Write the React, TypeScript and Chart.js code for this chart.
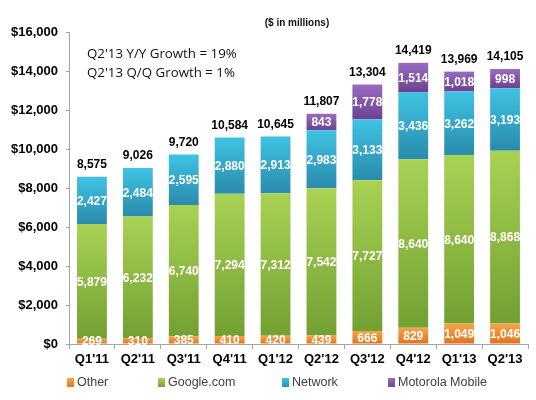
import React, { useEffect, useRef } from 'react';
import { Chart, registerables } from 'chart.js';

Chart.register(...registerables);

const QUARTERS = ["Q1'11", "Q2'11", "Q3'11", "Q4'11", "Q1'12", "Q2'12", "Q3'12", "Q4'12", "Q1'13", "Q2'13"];
const OTHER = [269, 310, 385, 410, 420, 439, 666, 829, 1049, 1046];
const GOOGLE_COM = [5879, 6232, 6740, 7294, 7312, 7542, 7727, 8640, 8640, 8868];
const NETWORK = [2427, 2484, 2595, 2880, 2913, 2983, 3133, 3436, 3262, 3193];
const MOTOROLA = [0, 0, 0, 0, 0, 843, 1778, 1514, 1018, 998];
const TOTALS = [8575, 9026, 9720, 10584, 10645, 11807, 13304, 14419, 13969, 14105];
const Y_TICKS = [0, 2000, 4000, 6000, 8000, 10000, 12000, 14000, 16000];
const NOTES = ["Q2'13 Y/Y Growth = 19%", "Q2'13 Q/Q Growth = 1%"];

// [top, bottom] shades per series
const SHADES: [string, string][] = [
  ['#f7a448', '#e2731a'],
  ['#a9d254', '#72a032'],
  ['#3fc3e3', '#2a8bad'],
  ['#9a6cc0', '#6a428f'],
];

const FONT = '"Liberation Sans", Arial, sans-serif';
const fmt = (v: number) => v.toLocaleString('en-US');

const segmentFill = (ctx: any) => {
  const chart = ctx.chart;
  const y = chart.scales?.y;
  const [top, bottom] = SHADES[ctx.datasetIndex];
  if (!y || ctx.type !== 'data') return bottom;
  let base = 0;
  for (let d = 0; d < ctx.datasetIndex; d++) base += chart.data.datasets[d].data[ctx.dataIndex] as number;
  const value = chart.data.datasets[ctx.datasetIndex].data[ctx.dataIndex] as number;
  const y0 = y.getPixelForValue(base + value);
  const y1 = y.getPixelForValue(base);
  if (!isFinite(y0) || !isFinite(y1) || y1 - y0 < 1) return bottom;
  const g = chart.ctx.createLinearGradient(0, y0, 0, y1);
  g.addColorStop(0, top);
  g.addColorStop(1, bottom);
  return g;
};

const labelsPlugin = {
  id: 'valueLabels',
  afterDatasetsDraw(chart: any) {
    const { ctx } = chart;
    ctx.save();
    ctx.textAlign = 'center';
    ctx.textBaseline = 'middle';
    ctx.font = `bold 12px ${FONT}`;
    ctx.fillStyle = '#ffffff';
    chart.data.datasets.forEach((ds: any, di: number) => {
      chart.getDatasetMeta(di).data.forEach((el: any, i: number) => {
        const v = ds.data[i];
        if (!v) return;
        ctx.fillText(fmt(v), el.x, (el.y + el.base) / 2 + 1);
      });
    });
    ctx.fillStyle = '#000000';
    const yScale = chart.scales.y;
    chart.getDatasetMeta(0).data.forEach((el: any, i: number) => {
      ctx.fillText(fmt(TOTALS[i]), el.x, yScale.getPixelForValue(TOTALS[i]) - 12);
    });

    // notes and unit caption
    ctx.textAlign = 'left';
    ctx.font = `13.3px "Open Sans", ${FONT}`;
    ctx.fillStyle = '#111111';
    NOTES.forEach((t, k) => ctx.fillText(t, 87, 54 + k * 19));
    ctx.textAlign = 'center';
    ctx.font = `bold 10px ${FONT}`;
    ctx.fillText('($ in millions)', 297, 23);

    // legend
    const slots = [67, 158, 282, 388];
    ctx.textAlign = 'left';
    ctx.font = `12.5px ${FONT}`;
    chart.data.datasets.forEach((ds: any, di: number) => {
      const x = slots[di];
      const g = ctx.createLinearGradient(0, 378, 0, 388);
      g.addColorStop(0, SHADES[di][0]);
      g.addColorStop(1, SHADES[di][1]);
      ctx.fillStyle = g;
      ctx.fillRect(x, 378, 7, 9);
      ctx.fillStyle = '#404040';
      ctx.fillText(ds.label, x + 10, 383);
    });
    ctx.restore();
  },
};

const App: React.FC = () => {
  const canvasRef = useRef<HTMLCanvasElement | null>(null);

  useEffect(() => {
    if (!canvasRef.current) return;
    const series = [
      { label: 'Other', data: OTHER },
      { label: 'Google.com', data: GOOGLE_COM },
      { label: 'Network', data: NETWORK },
      { label: 'Motorola Mobile', data: MOTOROLA },
    ];
    const chart = new Chart(canvasRef.current, {
      type: 'bar',
      data: {
        labels: QUARTERS,
        datasets: series.map((s) => ({
          ...s,
          backgroundColor: segmentFill,
          borderWidth: 0,
          barPercentage: 0.65,
          categoryPercentage: 1,
        })),
      },
      options: {
        animation: false,
        responsive: true,
        maintainAspectRatio: false,
        layout: { padding: { top: 32, right: 8, left: 0, bottom: 0 } },
        plugins: { legend: { display: false }, tooltip: { enabled: false } },
        scales: {
          x: {
            stacked: true,
            afterFit: (s: any) => { s.height = 56; },
            grid: {
              offset: true,
              drawOnChartArea: false,
              drawTicks: true,
              tickLength: 5,
              color: '#a6a6a6',
            },
            border: { color: '#a6a6a6' },
            ticks: { color: '#000', font: { family: FONT, size: 13, weight: 'bold' }, padding: 3 },
          },
          y: {
            stacked: true,
            min: 0,
            max: 16000,
            afterFit: (s: any) => { s.width = 69; },
            afterBuildTicks: (s: any) => { s.ticks = Y_TICKS.map((v) => ({ value: v })); },
            grid: { drawOnChartArea: false, tickLength: 3, color: '#a6a6a6' },
            border: { color: '#a6a6a6' },
            ticks: {
              color: '#000',
              padding: 8,
              font: { family: FONT, size: 13, weight: 'bold' },
              callback: (v: any) => '$' + fmt(Number(v)),
            },
          },
        },
      },
      plugins: [labelsPlugin],
    });
    return () => chart.destroy();
  }, []);

  return (
    <div style={{ position: 'fixed', left: 0, top: 0, width: 536, height: 400, background: '#fff' }}>
      <canvas ref={canvasRef}></canvas>
    </div>
  );
};

export default App;
